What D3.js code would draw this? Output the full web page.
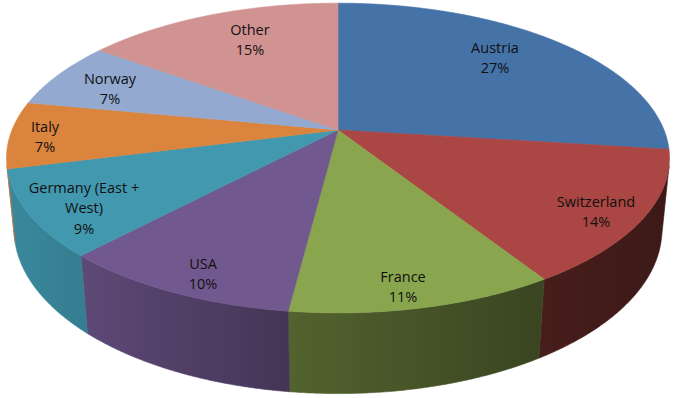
<!DOCTYPE html>
<html>
<head>
<meta charset="utf-8">
<script src="https://cdn.jsdelivr.net/npm/d3@7"></script>
<style>
  body { margin: 0; background: #fff; }
  .lbl { font-family: "Open Sans", sans-serif; font-size: 14.5px; fill: #111; }
</style>
</head>
<body>
<svg id="svg_pie" width="677" height="398"></svg>
<script>
const labels = ['Austria', 'Switzerland', 'France', 'USA', 'Germany (East + West)', 'Italy', 'Norway', 'Other']
const values = [27, 14, 11, 10, 9, 7, 7, 15]
const colors = ['#4572A7', '#AA4643', '#89A54E', '#71588F', '#4198AF', '#DB843D', '#93A9CF', '#D19392']

// where Excel dropped each label (centre of the text block), in px
const labelAnchor = [[495, 58], [596, 212], [403, 287], [203, 274], [84, 208], [45, 137], [110, 89], [250, 40]]

function drawPie() {
  const svg = d3.select('#svg_pie')

  // tilted disc seen in perspective
  const cx = 338, cy = 130
  const radiusPx = 330
  const squeezeX = 0.988
  const tilt = 27 * Math.PI / 180
  const rOverD = 0.203
  const depth = 0.245
  const sinT = Math.sin(tilt), cosT = Math.cos(tilt)

  const project = (phi, h) => {
    const fwd = -Math.cos(phi)
    const side = Math.sin(phi)
    const w = 1 - rOverD * cosT * fwd + rOverD * sinT * h
    return [cx + squeezeX * radiusPx * side / w, cy + radiusPx * (sinT * fwd + cosT * h) / w]
  }

  // side wall faces the camera between these angles
  const visEdge = Math.acos(-rOverD / cosT)
  const visFrom = visEdge, visTo = 2 * Math.PI - visEdge

  const arcs = d3.pie().sort(null).value(d => d)(values)

  const sample = (a0, a1, h) => {
    const n = Math.max(2, Math.ceil((a1 - a0) / (0.4 * Math.PI / 180)))
    return d3.range(n + 1).map(i => project(a0 + (a1 - a0) * i / n, h))
  }

  const shade = d3.scaleLinear()
    .domain([0, 80, 290, 545, 670])
    .range([0.9, 0.83, 0.6, 0.42, 0.35])
    .clamp(true)

  const defs = svg.append('defs')
  const wallGroup = svg.append('g')
  const topGroup = svg.append('g')

  arcs.forEach((d, i) => {
    const a0 = Math.max(d.startAngle, visFrom)
    const a1 = Math.min(d.endAngle, visTo)
    if (a0 >= a1) return
    const top = sample(a0, a1, 0)
    const bottom = sample(a0, a1, depth).reverse()
    const pts = top.concat(bottom)
    const xs = d3.extent(pts, p => p[0])
    const base = d3.rgb(colors[i])
    const grad = defs.append('linearGradient')
      .attr('id', 'wall' + i)
      .attr('gradientUnits', 'userSpaceOnUse')
      .attr('x1', xs[0]).attr('x2', xs[1]).attr('y1', 0).attr('y2', 0)
    d3.range(11).forEach(k => {
      const x = xs[0] + (xs[1] - xs[0]) * k / 10
      const f = shade(x)
      grad.append('stop')
        .attr('offset', k / 10)
        .attr('stop-color', d3.rgb(base.r * f, base.g * f, base.b * f).formatHex())
    })
    wallGroup.append('path')
      .attr('d', d3.line()(pts) + 'Z')
      .attr('fill', `url(#wall${i})`)
      .attr('stroke', `url(#wall${i})`)
      .attr('stroke-width', 0.6)
  })

  topGroup.selectAll('path')
    .data(arcs)
    .enter()
    .append('path')
    .attr('d', d => d3.line()([[cx, cy]].concat(sample(d.startAngle, d.endAngle, 0))) + 'Z')
    .attr('fill', (d, i) => colors[i])
    .attr('stroke', (d, i) => colors[i])
    .attr('stroke-width', 0.6)

  // labels, wrapped like Excel does
  const lineH = 20.5
  const labelGroup = svg.append('g')
  labels.forEach((name, i) => {
    const probe = labelGroup.append('text').attr('class', 'lbl')
    const words = name.split(' ')
    const lines = []
    let cur = ''
    words.forEach(w => {
      const test = cur ? cur + ' ' + w : w
      probe.text(test)
      if (probe.node().getComputedTextLength() > 125 && cur) {
        lines.push(cur)
        cur = w
      } else {
        cur = test
      }
    })
    lines.push(cur)
    probe.remove()
    lines.push(values[i] + '%')

    const [lx, ly] = labelAnchor[i]
    const y0 = ly - (lines.length - 1) * lineH / 2
    const t = labelGroup.append('text')
      .attr('class', 'lbl')
      .attr('text-anchor', 'middle')
    lines.forEach((ln, j) => {
      t.append('tspan')
        .attr('x', lx)
        .attr('y', y0 + j * lineH)
        .attr('dy', '0.35em')
        .text(ln)
    })
  })
}

drawPie()
</script>
</body>
</html>
